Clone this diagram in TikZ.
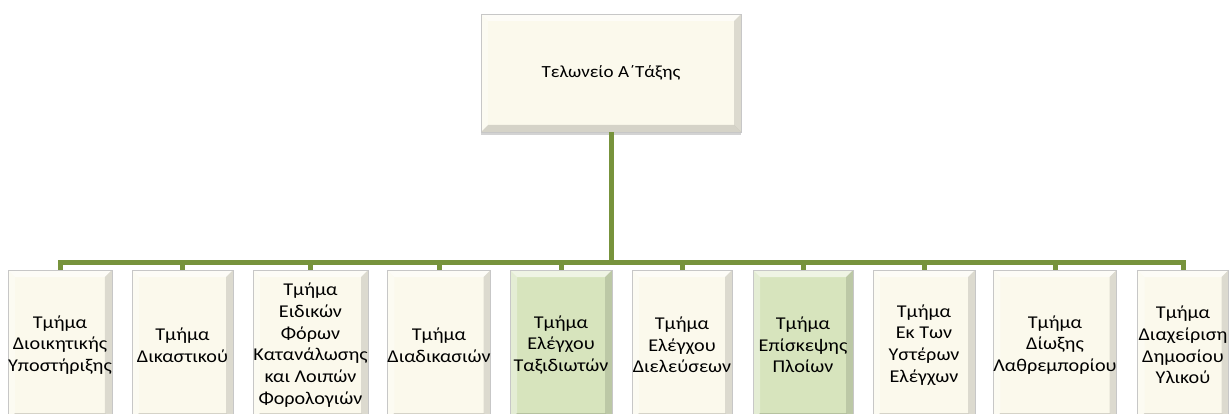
\documentclass[tikz,border=0pt]{standalone}
\usepackage{fontspec}
\setmainfont{Carlito}
\newfontfamily\unitfont[FakeStretch=1.12]{Carlito}
\usetikzlibrary{shadows}
\definecolor{olivelink}{HTML}{77933C}
\definecolor{creamfill}{HTML}{FBF9EC}
\definecolor{greenfill}{HTML}{D7E4BD}
\tikzset{
	bevel/.style={path picture={
		\fill[white,opacity=.6] (path picture bounding box.north west)--(path picture bounding box.north east)--([shift={(-7pt,-7pt)}]path picture bounding box.north east)--([shift={(7pt,-7pt)}]path picture bounding box.north west)--cycle;
		\fill[white,opacity=.35] (path picture bounding box.north west)--([shift={(7pt,-7pt)}]path picture bounding box.north west)--([shift={(7pt,7pt)}]path picture bounding box.south west)--(path picture bounding box.south west)--cycle;
		\fill[black,opacity=.12] (path picture bounding box.north east)--([shift={(-7pt,-7pt)}]path picture bounding box.north east)--([shift={(-7pt,7pt)}]path picture bounding box.south east)--(path picture bounding box.south east)--cycle;
		\fill[black,opacity=.15] (path picture bounding box.south west)--(path picture bounding box.south east)--([shift={(-7pt,7pt)}]path picture bounding box.south east)--([shift={(7pt,7pt)}]path picture bounding box.south west)--cycle;
	}},
	unit/.style={draw=black!22, line width=.5pt, fill=#1, bevel, inner sep=0pt, align=center,
		drop shadow={shadow xshift=0pt, shadow yshift=-3pt, opacity=.35},
		font=\unitfont\fontsize{18}{21.7}\selectfont},
	unit/.default=creamfill,
	link/.style={draw=olivelink, line width=5pt}
}
\begin{document}
\begin{tikzpicture}[x=1pt, y=-1pt, line join=miter]
	\useasboundingbox (0,0) rectangle (1229,414);
	\node[unit, minimum width=260pt, minimum height=118pt, font=\unitfont\fontsize{17}{20}\selectfont] (top) at (611,73) {Τελωνείο Α΄Τάξης};
	\foreach \i/\xc/\w/\col/\txt in {
		1/60/100/creamfill/{Τμήμα\\Διοικητικής\\Υποστήριξης},
		2/182.5/101/creamfill/{Τμήμα\\Δικαστικού},
		3/310.5/115/creamfill/{Τμήμα\\Ειδικών\\Φόρων\\Κατανάλωσης\\και Λοιπών\\Φορολογιών},
		4/439/102/creamfill/{Τμήμα\\Διαδικασιών},
		5/561/102/greenfill/{Τμήμα\\Ελέγχου\\Ταξιδιωτών},
		6/682/100/creamfill/{Τμήμα\\Ελέγχου\\Διελεύσεων},
		7/803/100/greenfill/{Τμήμα\\Επίσκεψης\\Πλοίων},
		8/924/102/creamfill/{Τμήμα\\Εκ Των\\Υστέρων\\Ελέγχων},
		9/1055/120/creamfill/{Τμήμα\\Δίωξης\\Λαθρεμπορίου},
		10/1183/91/creamfill/{Τμήμα\\Διαχείριση\\Δημοσίου\\Υλικού}}
	\node[unit=\col, minimum width=\w pt, minimum height=150pt] (b\i) at (\xc,345) {\txt};
	% links from the head office to every unit
	\foreach \i in {1,...,10}
	\draw[link] (top.south) -- ++(0,130) -| (b\i.north);
\end{tikzpicture}
\end{document}
